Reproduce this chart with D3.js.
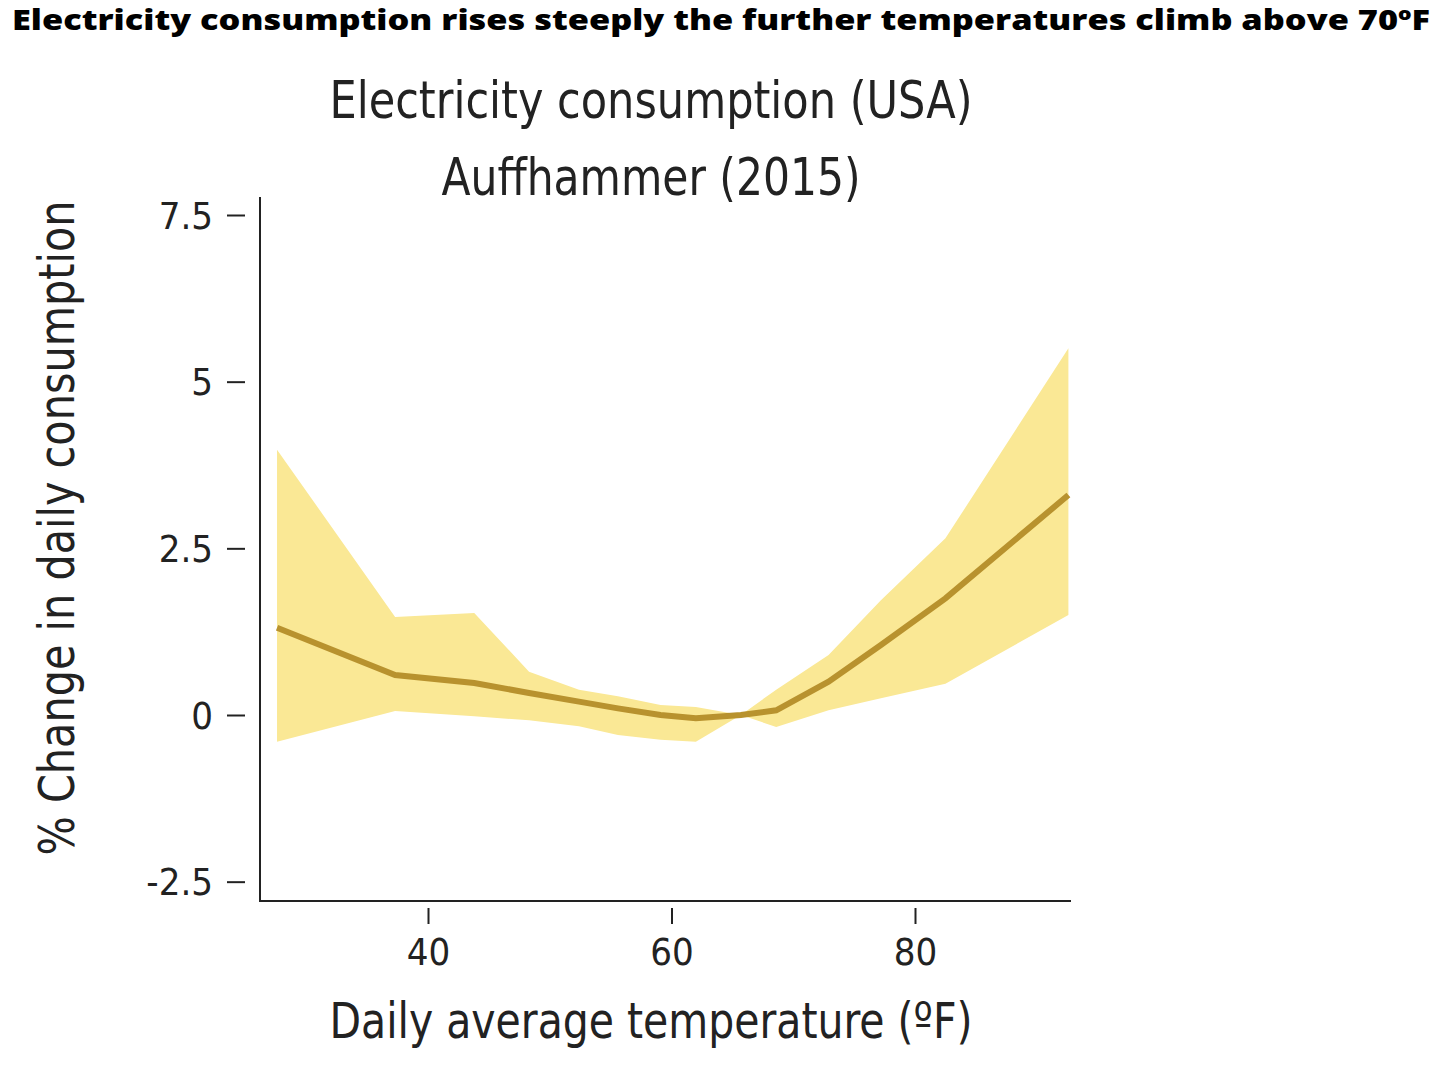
<!DOCTYPE html><html><head><meta charset="utf-8"><script src="https://cdn.jsdelivr.net/npm/d3@7"></script>
<style>body{margin:0;background:#fff}</style></head><body><svg id="c" width="1456" height="1072"></svg><script>
const temps=[27.6,37.3,43.8,48.3,52.4,55.6,59.1,62,65.7,68.6,72.9,77.2,82.5,92.6];
const est=[1.31,0.6,0.48,0.33,0.2,0.1,0.0,-0.05,0,0.07,0.5,1.05,1.75,3.3];
const upper=[3.98,1.47,1.53,0.65,0.38,0.28,0.15,0.12,0,0.38,0.9,1.72,2.65,5.5];
const lower=[-0.4,0.06,-0.02,-0.08,-0.17,-0.3,-0.37,-0.4,0,-0.18,0.07,0.25,0.47,1.5];
const xTicks=[40,60,80], yTicks=[-2.5,0,2.5,5,7.5];
const svg=d3.select("#c");
const x=d3.scaleLinear().domain([40,80]).range([428,915]);
const y=d3.scaleLinear().domain([0,7.5]).range([715,215]);
const F="'DejaVu Sans Condensed','Liberation Sans Narrow',sans-serif";
svg.append("text").attr("x",12).attr("y",30).attr("font-family","'Open Sans',sans-serif").attr("font-weight",800).attr("font-size",28).attr("textLength",1418).attr("lengthAdjust","spacingAndGlyphs").text("Electricity consumption rises steeply the further temperatures climb above 70ºF");
const d=temps.map((t,i)=>({t,e:est[i],u:upper[i],l:lower[i]}));
svg.append("path").datum(d).attr("fill","#fae895").attr("d",d3.area().x(v=>x(v.t)).y0(v=>y(v.l)).y1(v=>y(v.u)));
svg.append("path").datum(d).attr("fill","none").attr("stroke","#b8922e").attr("stroke-width",6).attr("d",d3.line().x(v=>x(v.t)).y(v=>y(v.e)));
svg.append("line").attr("x1",260).attr("x2",260).attr("y1",197).attr("y2",901).attr("stroke","#222").attr("stroke-width",2);
svg.append("line").attr("x1",259).attr("x2",1071).attr("y1",901).attr("y2",901).attr("stroke","#222").attr("stroke-width",2);
const ya=svg.append("g").attr("transform","translate(245,0)").call(d3.axisLeft(y).tickValues(yTicks).tickSize(18).tickPadding(14).tickFormat(v=>String(v)));
const xa=svg.append("g").attr("transform","translate(0,908)").call(d3.axisBottom(x).tickValues(xTicks).tickSize(16).tickPadding(14));
[ya,xa].forEach(a=>{a.select(".domain").remove();a.selectAll("line").attr("stroke","#222").attr("stroke-width",2);a.selectAll("text").attr("font-family",F).attr("font-size",38).attr("fill","#222");});
ya.selectAll("text").attr("dy","0.35em");
const t=(tx,xx,yy,s,len,rot)=>svg.append("text").attr("x",xx).attr("y",yy).attr("text-anchor","middle").attr("font-family",F).attr("font-size",s).attr("fill","#222").attr("textLength",len).attr("lengthAdjust","spacingAndGlyphs").attr("transform",rot?`rotate(-90,${xx},${yy})`:null).text(tx);
t("Electricity consumption (USA)",651,118,52,643);
t("Auffhammer (2015)",651,195,52,419);
t("Daily average temperature (ºF)",651,1038,50,643);
t("% Change in daily consumption",74,528,50,655,true);
</script></body></html>
